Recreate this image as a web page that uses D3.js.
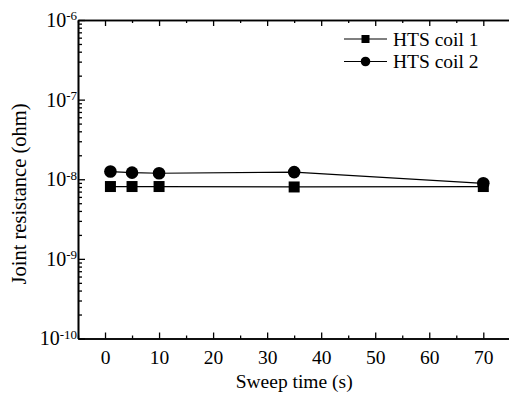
<!DOCTYPE html>
<html>
<head>
<meta charset="utf-8">
<script src="https://cdn.jsdelivr.net/npm/d3@7"></script>
<style>
  html, body { margin: 0; padding: 0; background: #fff; }
  svg { display: block; }
  svg text { font-family: "Liberation Serif", "DejaVu Serif", serif; }
</style>
</head>
<body>
<div id="chart"></div>
<script>
const sweepTimes = [1, 5, 10, 35, 70];
const coil1 = [8.1e-9, 8.1e-9, 8.1e-9, 8.0e-9, 8.1e-9];
const coil2 = [1.25e-8, 1.21e-8, 1.19e-8, 1.23e-8, 8.9e-9];
const seriesNames = ["HTS coil 1", "HTS coil 2"];
const xTicks = [0, 10, 20, 30, 40, 50, 60, 70];
const yDecades = [-10, -9, -8, -7, -6];

const width = 509, height = 398;
const mLeft = 78, mTop = 20, mBottom = 338.5;
const serif = "Liberation Serif";

const svg = d3.select("#chart").append("svg")
  .attr("width", width)
  .attr("height", height)
  .attr("font-family", serif);

const x = d3.scaleLinear().domain([-5, 77]).range([mLeft, mLeft + 82 * 5.404]);
const y = d3.scaleLog().domain([1e-10, 1e-6]).range([mBottom, mTop]);

// minor tick values
const xMinor = d3.range(-5, 80, 10);
const yMinor = [];
yDecades.slice(0, -1).forEach(e => {
  for (let k = 2; k <= 9; k++) yMinor.push(k * Math.pow(10, e));
});

function styleAxis(g) {
  g.attr("font-family", serif);
  g.selectAll("path, line").attr("stroke", "#000").attr("stroke-width", 1.3);
  g.select(".domain").attr("stroke-width", 1.6);
}

// bottom axis
svg.append("g")
  .attr("transform", `translate(0,${mBottom})`)
  .call(d3.axisBottom(x).tickValues(xMinor).tickSize(-3).tickSizeOuter(0).tickFormat(""))
  .call(styleAxis);
const xAxis = svg.append("g")
  .attr("transform", `translate(0,${mBottom})`)
  .call(d3.axisBottom(x).tickValues(xTicks).tickSizeInner(-6).tickSizeOuter(0).tickPadding(12))
  .call(styleAxis);
xAxis.selectAll("text")
  .attr("font-family", serif)
  .attr("font-size", 19.5)
  .attr("fill", "#000")
  .attr("dy", "0.71em");

// top axis
svg.append("g")
  .attr("transform", `translate(0,${mTop})`)
  .call(d3.axisTop(x).tickValues(xMinor).tickSize(-3).tickSizeOuter(0).tickFormat(""))
  .call(styleAxis);
svg.append("g")
  .attr("transform", `translate(0,${mTop})`)
  .call(d3.axisTop(x).tickValues(xTicks).tickSize(-6).tickSizeOuter(0).tickFormat(""))
  .call(styleAxis);

// left axis
svg.append("g")
  .attr("transform", `translate(${mLeft},0)`)
  .call(d3.axisLeft(y).tickValues(yMinor).tickSize(-4).tickSizeOuter(0).tickFormat(""))
  .call(styleAxis);
const yAxis = svg.append("g")
  .attr("transform", `translate(${mLeft},0)`)
  .call(d3.axisLeft(y).tickValues(yDecades.map(e => Math.pow(10, e))).tickSizeInner(-7).tickSizeOuter(0).tickFormat(""))
  .call(styleAxis);

yAxis.selectAll(".tick").each(function (d, i) {
  const t = d3.select(this).append("text")
    .attr("x", -1)
    .attr("dy", "0.32em")
    .attr("text-anchor", "end")
    .attr("fill", "#000")
    .attr("font-family", serif)
    .attr("font-size", 20);
  t.append("tspan").text("10");
  t.append("tspan")
    .attr("dy", "-0.5em")
    .attr("font-size", 13)
    .text(String(yDecades[i]));
});

// axis titles
svg.append("text")
  .attr("x", x(35))
  .attr("y", 388)
  .attr("text-anchor", "middle")
  .attr("font-family", serif)
  .attr("font-size", 19.5)
  .text("Sweep time (s)");

svg.append("text")
  .attr("transform", "translate(26,194) rotate(-90)")
  .attr("text-anchor", "middle")
  .attr("font-family", serif)
  .attr("font-size", 20.5)
  .text("Joint resistance (ohm)");

// series
const series = [coil1, coil2];
const line = d3.line()
  .x(d => x(d[0]))
  .y(d => y(d[1]));

series.forEach((vals) => {
  const pts = sweepTimes.map((t, i) => [t, vals[i]]);
  svg.append("path")
    .datum(pts)
    .attr("fill", "none")
    .attr("stroke", "#000")
    .attr("stroke-width", 1.2)
    .attr("d", line);
});

// markers
svg.selectAll(".sq")
  .data(sweepTimes.map((t, i) => [t, coil1[i]]))
  .join("rect")
  .attr("x", d => x(d[0]) - 5.5)
  .attr("y", d => y(d[1]) - 5.5)
  .attr("width", 11)
  .attr("height", 11)
  .attr("fill", "#000");

svg.selectAll(".ci")
  .data(sweepTimes.map((t, i) => [t, coil2[i]]))
  .join("circle")
  .attr("cx", d => x(d[0]))
  .attr("cy", d => y(d[1]))
  .attr("r", 6.3)
  .attr("fill", "#000");

// legend
const legend = svg.append("g").attr("transform", "translate(344,39)");
seriesNames.forEach((name, i) => {
  const g = legend.append("g").attr("transform", `translate(0,${i * 22.5})`);
  g.append("line")
    .attr("x1", 0).attr("x2", 43)
    .attr("stroke", "#000").attr("stroke-width", 1.2);
  if (i === 0) {
    g.append("rect").attr("x", 17.5).attr("y", -4).attr("width", 8).attr("height", 8).attr("fill", "#000");
  } else {
    g.append("circle").attr("cx", 21.5).attr("cy", 0).attr("r", 4.8).attr("fill", "#000");
  }
  g.append("text")
    .attr("x", 49)
    .attr("dy", "0.34em")
    .attr("font-family", serif)
    .attr("font-size", 19.5)
    .text(name);
});
</script>
</body>
</html>
